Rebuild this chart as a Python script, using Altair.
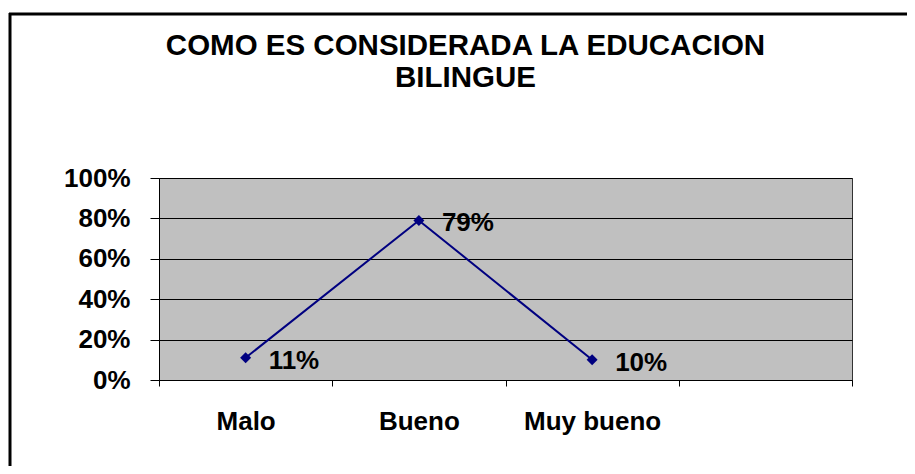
import altair as alt
import pandas as pd

categories = ["Malo", "Bueno", "Muy bueno"]
axis_slots = ["Malo", "Bueno", "Muy bueno", " "]
values = [0.11, 0.79, 0.10]
labels = ["11%", "79%", "10%"]
y_ticks = [0, 0.2, 0.4, 0.6, 0.8, 1.0]
title_lines = ["COMO ES CONSIDERADA LA EDUCACION", "BILINGUE"]

df = pd.DataFrame({"cat": categories, "val": values, "lab": labels})
frame_df = pd.DataFrame({"k": [0]})

FONT = "Liberation Sans"
NAVY = "#000080"

x_enc = alt.X(
    "cat:N",
    sort=axis_slots,
    bandPosition=0.5,
    scale=alt.Scale(type="band", domain=axis_slots, paddingInner=0, paddingOuter=0),
    axis=alt.Axis(
        title=None, tickBand="extent", labelAngle=0, grid=False,
        labelFont=FONT, labelFontSize=26, labelFontWeight="bold", labelColor="black",
        labelPadding=22, tickSize=6, tickColor="black", domainColor="black",
    ),
)
y_enc = alt.Y(
    "val:Q",
    scale=alt.Scale(domain=[0, 1], nice=False),
    axis=alt.Axis(
        title=None, values=y_ticks, format=".0%",
        labelFont=FONT, labelFontSize=26, labelFontWeight="bold", labelColor="black",
        labelPadding=20, tickSize=9, tickColor="black", domainColor="black",
        gridColor="black", gridOpacity=1, gridWidth=1,
    ),
)

base = alt.Chart(df).encode(x=x_enc, y=y_enc)
line = base.mark_line(color=NAVY, strokeWidth=2)
pts = base.mark_point(shape="diamond", filled=True, size=120, color=NAVY, opacity=1)
txt = base.mark_text(
    align="left", baseline="middle", dx=23, dy=3,
    font=FONT, fontSize=26, fontWeight="bold", color="black",
).encode(text="lab:N")

frame_v = alt.Chart(frame_df).mark_rule(color="black", strokeWidth=3).encode(
    x=alt.value(-149), y=alt.value(-165), y2=alt.value(300)
)
frame_h = alt.Chart(frame_df).mark_rule(color="black", strokeWidth=3).encode(
    x=alt.value(-150), x2=alt.value(760), y=alt.value(-164)
)

chart = (
    alt.layer(line, pts, txt, frame_v, frame_h)
    .properties(
        width=693,
        height=202,
        padding={"left": 151, "top": 170, "right": 55, "bottom": 86},
        autosize=alt.AutoSizeParams(type="none"),
        background="white",
        title=alt.TitleParams(
            text=title_lines, font=FONT, fontSize=29.5, fontWeight="bold",
            color="black", anchor="middle", frame="group", dx=-40, offset=-82,
            lineHeight=32,
        ),
    )
    .configure_view(fill="#C0C0C0", stroke="#333333", strokeWidth=1)
)

chart.save("out.html", embed_options={"renderer": "svg", "actions": False})
